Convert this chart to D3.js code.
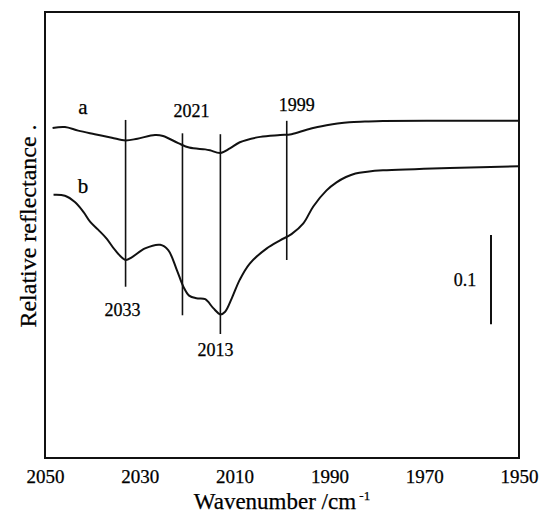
<!DOCTYPE html>
<html>
<head>
<meta charset="utf-8">
<script src="https://cdn.jsdelivr.net/npm/d3@7"></script>
<style>
  html, body { margin: 0; padding: 0; background: #fff; }
  svg { display: block; }
  svg text { font-family: "Liberation Serif", "Times New Roman", serif; fill: #000; stroke: #000; stroke-width: 0.25px; }
</style>
</head>
<body>
<svg id="chart" width="539" height="516"></svg>
<script>
// IR reflectance spectra, wavenumber (cm-1) vs relative reflectance (a.u.)
const wavenumberA = [2048.4, 2045.8, 2043.0, 2039.5, 2035.9, 2033.0, 2030.5, 2026.8, 2025.1, 2021.9, 2019.6, 2016.2, 2015.2, 2013.0, 2011.0, 2008.9, 2004.6, 2000.4, 1998.0, 1994.8, 1992.5, 1990.6, 1988.3, 1985.8, 1982.5, 1978.7, 1964.6, 1950.0];
const reflectA   = [0.370, 0.371, 0.367, 0.363, 0.359, 0.356, 0.358, 0.362, 0.361, 0.353, 0.348, 0.346, 0.345, 0.342, 0.347, 0.354, 0.360, 0.362, 0.363, 0.368, 0.371, 0.373, 0.375, 0.3765, 0.3772, 0.3778, 0.378, 0.378];

const wavenumberB = [2048.2, 2045.8, 2043.7, 2041.9, 2040.5, 2038.8, 2037.0, 2035.2, 2033.0, 2031.7, 2028.9, 2025.7, 2024.0, 2022.2, 2020.8, 2019.6, 2018.0, 2016.2, 2014.5, 2013.0, 2012.0, 2010.6, 2008.9, 2006.8, 2003.2, 2000.4, 1998.0, 1995.5, 1993.4, 1990.6, 1988.5, 1986.5, 1984.5, 1982.0, 1978.7, 1972.0, 1964.6, 1950.0];
const reflectB   = [0.295, 0.294, 0.287, 0.276, 0.265, 0.256, 0.246, 0.233, 0.222, 0.225, 0.235, 0.239, 0.233, 0.211, 0.192, 0.182, 0.179, 0.178, 0.168, 0.161, 0.164, 0.179, 0.200, 0.218, 0.235, 0.244, 0.251, 0.263, 0.282, 0.300, 0.309, 0.315, 0.319, 0.321, 0.3225, 0.3238, 0.325, 0.327];

const seriesLabels = ["a", "b"];

// Peak markers: position and vertical extent
const peakPositions = [2033, 2021, 2013, 1999];
const peakTop       = [0.379, 0.364, 0.363, 0.378];
const peakBottom    = [0.192, 0.160, 0.139, 0.222];

const xTicks = [2050, 2030, 2010, 1990, 1970, 1950];
const scaleBar = [0.15, 0.25];
const scaleBarLabel = "0.1";

const svg = d3.select("#chart");
const plotLeft = 45, plotRight = 519, plotTop = 12, plotBottom = 458;

const x = d3.scaleLinear().domain([2050, 1950]).range([plotLeft, plotRight]);
const y = d3.scaleLinear().domain([0, 0.5]).range([plotBottom, plotTop]);

// frame
svg.append("rect")
  .attr("x", plotLeft).attr("y", plotTop)
  .attr("width", plotRight - plotLeft).attr("height", plotBottom - plotTop)
  .attr("fill", "none").attr("stroke", "#111").attr("stroke-width", 2);

// x axis labels
const xAxis = d3.axisBottom(x).tickValues(xTicks).tickSize(0).tickPadding(12).tickFormat(d3.format("d"));
const gx = svg.append("g").attr("transform", `translate(0,${plotBottom})`).call(xAxis)
  .attr("font-family", null).attr("font-size", null);
gx.select(".domain").remove();
gx.selectAll("text").style("font-size", "19px");

// axis titles
const xt = svg.append("text")
  .attr("x", (plotLeft + plotRight) / 2).attr("y", 509)
  .attr("text-anchor", "middle").style("font-size", "23px");
xt.append("tspan").text("Wavenumber /cm");
xt.append("tspan").attr("dy", -9).style("font-size", "13px").text(" -1");

svg.append("text")
  .attr("transform", "translate(36,226) rotate(-90)")
  .attr("text-anchor", "middle").style("font-size", "24px")
  .text("Relative reflectance .");

// spectra
const line = d3.line()
  .x(d => x(d[0])).y(d => y(d[1]))
  .curve(d3.curveCatmullRom.alpha(0.5));

const seriesData = [
  d3.zip(wavenumberA, reflectA),
  d3.zip(wavenumberB, reflectB)
];

svg.selectAll("path.spectrum")
  .data(seriesData)
  .join("path")
  .attr("class", "spectrum")
  .attr("d", line)
  .attr("fill", "none")
  .attr("stroke", "#111")
  .attr("stroke-width", 2);

// series labels
const seriesLabelPos = [[2042, 0.386], [2042, 0.297]];
svg.selectAll("text.series")
  .data(seriesLabels)
  .join("text")
  .attr("class", "series")
  .attr("x", (d, i) => x(seriesLabelPos[i][0]))
  .attr("y", (d, i) => y(seriesLabelPos[i][1]))
  .attr("text-anchor", "middle")
  .style("font-size", "21px")
  .text(d => d);

// peak markers
svg.selectAll("line.peak")
  .data(peakPositions)
  .join("line")
  .attr("class", "peak")
  .attr("x1", d => x(d)).attr("x2", d => x(d))
  .attr("y1", (d, i) => y(peakTop[i]))
  .attr("y2", (d, i) => y(peakBottom[i]))
  .attr("stroke", "#111").attr("stroke-width", 1.6);

// peak labels: above the marker for 2021/1999, below for 2033/2013
const peakLabelAbove = [false, true, false, true];
const peakLabelGap = [29, 16, 22, 10];
const peakLabelShift = [-3, 9, -5, 10];
svg.selectAll("text.peak")
  .data(peakPositions)
  .join("text")
  .attr("class", "peak")
  .attr("x", (d, i) => x(d) + peakLabelShift[i])
  .attr("y", (d, i) => peakLabelAbove[i] ? y(peakTop[i]) - peakLabelGap[i] : y(peakBottom[i]) + peakLabelGap[i])
  .attr("text-anchor", "middle")
  .style("font-size", "18px")
  .text(d => d);

// scale bar
svg.append("line")
  .attr("x1", 491).attr("x2", 491)
  .attr("y1", y(scaleBar[0])).attr("y2", y(scaleBar[1]))
  .attr("stroke", "#111").attr("stroke-width", 2);
svg.append("text")
  .attr("x", 465).attr("y", y((scaleBar[0] + scaleBar[1]) / 2) + 6)
  .attr("text-anchor", "middle")
  .style("font-size", "18px")
  .text(scaleBarLabel);
</script>
</body>
</html>
